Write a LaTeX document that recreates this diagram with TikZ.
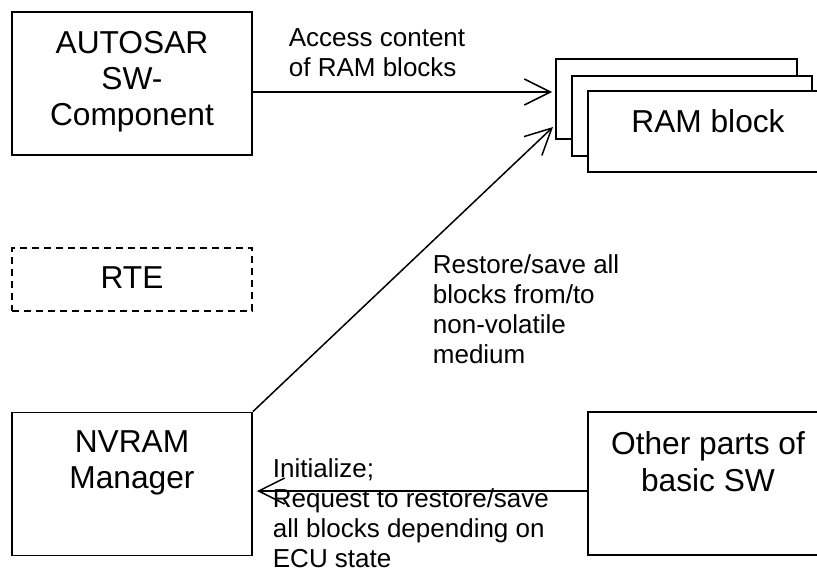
\documentclass[tikz,border=0pt]{standalone}
\usepackage{fontspec}
\setmainfont{Liberation Sans}
\usetikzlibrary{arrows.meta,positioning}

\begin{document}
\begin{tikzpicture}[x=1pt,y=-1pt,line width=1.8pt,
    box/.style={draw,fill=white,minimum width=240pt,minimum height=143pt,inner sep=0pt},
    boxtext/.style={font=\fontsize{31.7}{36.3}\selectfont,align=center,inner sep=0pt},
    note/.style={font=\fontsize{26}{30}\selectfont,align=left,inner sep=0pt,anchor=north west},
    open/.style={line width=1.5pt,-{Straight Barb[length=26pt,width=26pt]}}]

        \useasboundingbox (0,0) rectangle (817,572);
        \clip (0,0) rectangle (817,572);

        \begin{scope}[every node/.style=box]
          \node (swc)   at (132,83.5)  {};
          \node[dash pattern=on 7pt off 5pt,minimum height=63pt] (rte) at (132,279.5) {};
          \node (nvm)   at (132,484)   {};
          \node (other) at (708,483.5) {};
          \node[minimum width=241pt,minimum height=80pt] (ram3) at (676.5,99) {};
          \node[minimum height=80pt] (ram2) at (692,116) {};
          \node[minimum height=81pt] (ram1) at (708,131.5) {};
        \end{scope}

        \begin{scope}[every node/.style=boxtext]
          \node[below=19pt of swc.north]   (swctext)   {AUTOSAR\\SW-\\Component};
          \node[below=19pt of rte.north]   (rtetext)   {RTE};
          \node[below=18pt of nvm.north]   (nvmtext)   {NVRAM\\Manager};
          \node[below=20pt of other.north] (othertext) {Other parts of\\basic SW};
          \node[below=19pt of ram1.north]  (ramtext)   {RAM block};
        \end{scope}

        \coordinate (ramin)  at (552,92);
        \coordinate (ramin2) at (553,127);
        \coordinate (nvmin)  at (257,491);

        \draw[open] (swc.east |- ramin) -- (ramin);
        \draw[open] (nvm.north east) -- (ramin2);
        \draw[open] (other.west |- nvmin) -- (nvmin);

        \node[note] (access)  at (288,28)  {Access content\\of RAM blocks};
        \node[note] (restore) at (432,254) {Restore/save all\\blocks from/to\\non-volatile\\medium};
        \node[note] (init)    at (272,458) {Initialize;\\Request to restore/save\\all blocks depending on\\ECU state};

      \end{tikzpicture}
\end{document}
